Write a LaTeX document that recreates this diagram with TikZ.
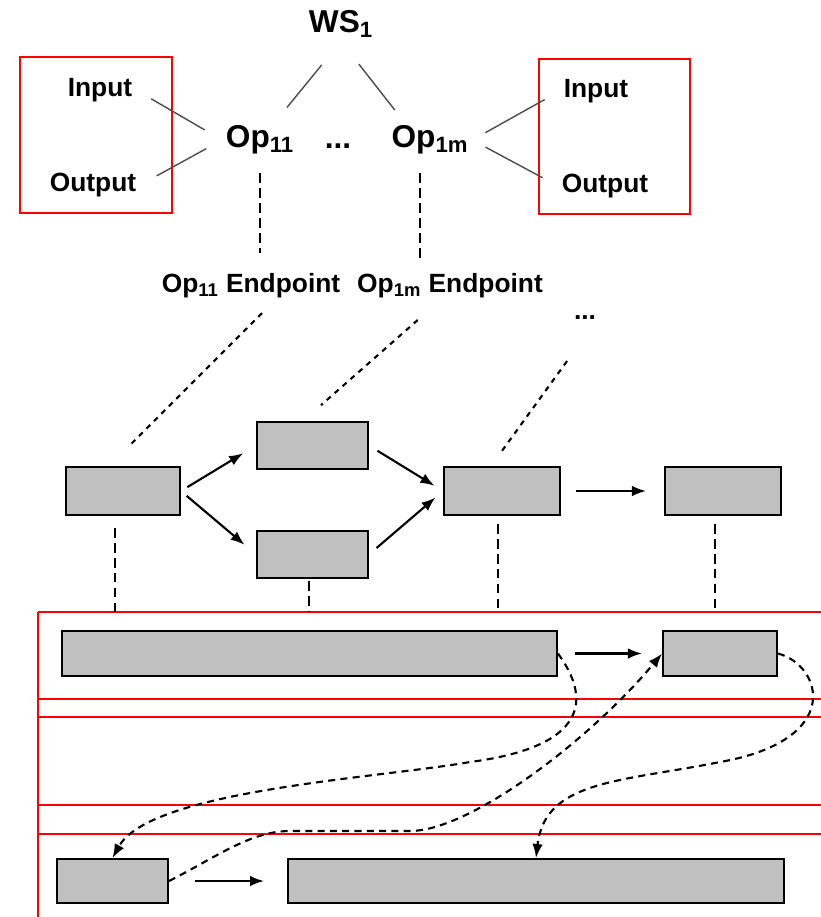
\documentclass[tikz,border=0pt]{standalone}
\usepackage{fontspec}
\setmainfont{Liberation Sans}
\usetikzlibrary{arrows.meta}
\definecolor{boxgray}{RGB}{192,192,192}

\begin{document}
\begin{tikzpicture}[x=0.02cm,y=-0.02cm,
    lbl/.style={font=\bfseries\fontsize{15}{18}\selectfont, inner sep=2pt},
    big/.style={font=\bfseries\fontsize{18}{22}\selectfont, inner sep=2pt},
    task/.style={draw=black, line width=1.1pt, fill=boxgray},
    redbox/.style={draw=red, line width=1.3pt},
    lane/.style={red, line width=1.6pt},
    thin/.style={black!70, line width=0.8pt},
    drop/.style={line width=1pt, dash pattern=on 5.5pt off 3pt},
    link/.style={line width=1.2pt, dash pattern=on 3pt off 3pt},
    flow/.style={line width=1.2pt, -{Latex[length=8pt,width=6pt]}},
    swap/.style={line width=1.2pt, dash pattern=on 4pt off 3pt, -{Latex[length=8pt,width=6pt]}}]
    \useasboundingbox (0,0) rectangle (821,917);

    % service and its operations
    \node[big] (ws) at (341,24) {WS\textsubscript{1}};
    \node[big] (op11) at (260,140) {Op\textsubscript{11}};
    \node[big] (opdots) at (338,146) {...};
    \node[big] (op1m) at (430,140) {Op\textsubscript{1m}};
    \draw[thin, shorten <=0.61cm, shorten >=0.37cm] (ws.south) -- (op11.50);
    \draw[thin, shorten <=0.58cm, shorten >=0.3cm] (ws.south) -- (op1m.145);

    % messages
    \draw[redbox] (20,57) rectangle (172,213);
    \draw[redbox] (539,59) rectangle (690,214);
    \node[lbl] (in1) at (100,90) {Input};
    \node[lbl] (out1) at (93,185) {Output};
    \node[lbl] (in2) at (596,91) {Input};
    \node[lbl] (out2) at (605,186) {Output};
    \draw[thin, shorten <=0.35cm, shorten >=0.4cm] (in1.east) -- (op11.west);
    \draw[thin, shorten <=0.38cm, shorten >=0.36cm] (out1.east) -- (op11.west);
    \draw[thin, shorten <=0.3cm, shorten >=0.35cm] (op1m.east) -- (in2.west);
    \draw[thin, shorten <=0.3cm, shorten >=0.35cm] (op1m.east) -- (out2.west);

    % endpoints
    \node[lbl] (ep1) at (251,286) {Op\textsubscript{11} Endpoint};
    \node[lbl] (ep2) at (450,286) {Op\textsubscript{1m} Endpoint};
    \node[lbl] (epdots) at (585,318) {...};
    \draw[drop, shorten <=0.3cm, shorten >=0.34cm] (op11.south) -- (op11.south |- ep1.north);
    \draw[drop, shorten <=0.3cm, shorten >=0.24cm] ([xshift=-0.2cm]op1m.south) -- ([xshift=-0.2cm]op1m.south |- ep2.north);

    % process
    \node[task, minimum width=2.28cm, minimum height=0.96cm] (act1) at (123,491) {};
    \node[task, minimum width=2.22cm, minimum height=0.94cm] (act2) at (312.5,445.5) {};
    \node[task, minimum width=2.22cm, minimum height=0.94cm] (act3) at (312.5,554.5) {};
    \node[task, minimum width=2.32cm, minimum height=0.96cm] (act4) at (502,491) {};
    \node[task, minimum width=2.32cm, minimum height=0.96cm] (act5) at (723,491) {};
    \draw[flow, shorten <=0.15cm, shorten >=0.3cm] (act1.east) -- (act2.west);
    \draw[flow, shorten <=0.15cm, shorten >=0.3cm] (act1.east) -- (act3.west);
    \draw[flow, shorten <=0.2cm, shorten >=0.2cm] (act2.east) -- (act4.west);
    \draw[flow, shorten <=0.2cm, shorten >=0.2cm] (act3.east) -- (act4.west);
    \draw[flow, shorten <=0.3cm, shorten >=0.36cm] (act4.east) -- (act5.west);
    \draw[link, shorten <=0.31cm, shorten >=0.57cm] ([xshift=0.44cm]ep1.south) -- ([xshift=-0.28cm]act1.north);
    \draw[link, shorten <=0.54cm, shorten >=0.48cm] ([xshift=-0.24cm]ep2.south) -- ([xshift=-0.19cm]act2.north);
    \draw[link, shorten <=0.92cm, shorten >=0.37cm] ([xshift=0.18cm]epdots.south) -- ([xshift=-0.22cm]act4.north);

    % lanes
    \coordinate (lanetop) at (38,612);
    \foreach \y in {612,699,717,805,834}
    \draw[lane] (38,\y) -- (821,\y);
    \draw[lane] (lanetop) -- (38,917);
    \foreach \n/\dx/\gap in {act1/-0.16/0.24, act3/-0.07/0.04, act4/-0.08/0.16, act5/-0.16/0.16}
    \draw[drop, shorten <=\gap cm] ([xshift=\dx cm]\n.south) -- ([xshift=\dx cm]\n.south |- lanetop);

    % runs
    \node[task, minimum width=9.9cm, minimum height=0.9cm] (run1) at (309.5,653.5) {};
    \node[task, minimum width=2.28cm, minimum height=0.9cm] (run2) at (720,653.5) {};
    \node[task, minimum width=2.22cm, minimum height=0.88cm] (run3) at (112.5,881) {};
    \node[task, minimum width=9.92cm, minimum height=0.88cm] (run4) at (536,881) {};
    \draw[flow, shorten <=0.34cm, shorten >=0.4cm] (run1.east) -- (run2.west);
    \draw[flow, shorten <=0.52cm, shorten >=0.46cm] (run3.east) -- (run4.west);
    \draw[swap] (run1.east) .. controls (585,690) and (600,745) .. (470,762)
        .. controls (380,778) and (150,790) .. (run3.north);
    \draw[swap] (run3.east) .. controls (215,858) and (250,831) .. (290,831) -- (410,831)
        .. controls (470,831) and (590,740) .. (run2.west);
    \draw[swap] (run2.east) .. controls (822,665) and (845,740) .. (720,762)
        .. controls (620,782) and (545,780) .. (run4.north);
\end{tikzpicture}
\end{document}
